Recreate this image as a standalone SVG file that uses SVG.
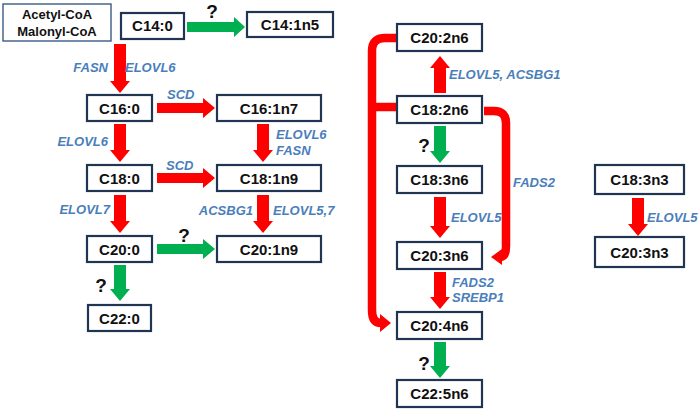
<svg xmlns="http://www.w3.org/2000/svg" width="700" height="412" viewBox="0 0 700 412">
<defs>
<style>
.box{fill:#fff;stroke:#1f3552;stroke-width:2.2}
.box0{fill:#fff;stroke:#3a5a85;stroke-width:1.4}
.t{font-family:"Liberation Sans",Arial,sans-serif;font-weight:bold;font-size:15px;fill:#111;text-anchor:middle}
.t0{font-family:"Liberation Sans",Arial,sans-serif;font-weight:bold;font-size:13px;fill:#111;text-anchor:middle}
.lb{font-family:"Liberation Sans",Arial,sans-serif;font-weight:bold;font-style:italic;font-size:13px;fill:#4a7ebb}
.q{font-family:"Liberation Sans",Arial,sans-serif;font-weight:bold;font-size:19px;fill:#111;text-anchor:middle}
.red{fill:#ff0000}
.grn{fill:#00b050}
.br{fill:none;stroke:#ff0000;stroke-width:8.5;stroke-linejoin:round}
</style>
</defs>
<rect width="700" height="412" fill="#fff"/>
<g id="connectors">
<!-- left column vertical arrows -->
<polygon class="red" points="114,44 126,44 126,81 130,81 120,93 110,81 114,81"/>
<polygon class="red" points="114,124 126,124 126,150 130,150 120,162 110,150 114,150"/>
<polygon class="red" points="114,195 126,195 126,221 130,221 120,233 110,221 114,221"/>
<polygon class="grn" points="114,265 126,265 126,289 130,289 120,301 110,289 114,289"/>
<!-- horizontal arrows -->
<polygon class="grn" points="187,22 234,22 234,17 245,27 234,37 234,32 187,32"/>
<polygon class="red" points="157,103 203,103 203,98 215,108 203,118 203,113 157,113"/>
<polygon class="red" points="157,173 203,173 203,168 215,178 203,188 203,183 157,183"/>
<polygon class="grn" points="157,244 203,244 203,239 215,249 203,259 203,254 157,254"/>
<!-- right column vertical arrows -->
<polygon class="red" points="257,124 269,124 269,150 273,150 263,162 253,150 257,150"/>
<polygon class="red" points="257,195 269,195 269,221 273,221 263,233 253,221 257,221"/>
<!-- n6 column -->
<polygon class="red" points="434,93 446,93 446,68 450,68 440,56 430,68 434,68"/>
<polygon class="grn" points="434,126 446,126 446,151 450,151 440,163 430,151 434,151"/>
<polygon class="red" points="434,197 446,197 446,226 450,226 440,238 430,226 434,226"/>
<polygon class="red" points="434,272 446,272 446,297 450,297 440,309 430,297 434,297"/>
<polygon class="grn" points="434,342 446,342 446,366 450,366 440,378 430,366 434,366"/>
<!-- n3 -->
<polygon class="red" points="632,198 644,198 644,224 648,224 638,236 628,224 632,224"/>
<!-- left bracket -->
<path class="br" d="M397,38 H385 Q372,38 372,51 V310 Q372,323 381,323"/>
<path class="br" d="M372,107 H397"/>
<polygon class="red" points="380,314 391,323 380,332"/>
<!-- right bracket -->
<path class="br" d="M484,111 H494 Q506,111 506,123 V246 Q506,257 500,257"/>
<polygon class="red" points="502,249 491,257 502,265"/>
</g>
<g id="n-acetyl"><rect class="box0" x="3" y="4" width="108" height="37"/><text class="t0" x="57" y="19">Acetyl-CoA</text><text class="t0" x="57" y="36">Malonyl-CoA</text></g>
<g id="n-c14-0"><rect class="box" x="121" y="13" width="63" height="26"/><text class="t" x="152.5" y="31">C14:0</text></g>
<g id="n-c14-1n5"><rect class="box" x="247" y="12" width="86" height="25"/><text class="t" x="290" y="30">C14:1n5</text></g>
<g id="n-c16-0"><rect class="box" x="87" y="95" width="65" height="26"/><text class="t" x="119.5" y="113.5">C16:0</text></g>
<g id="n-c18-0"><rect class="box" x="87" y="165" width="65" height="26"/><text class="t" x="119.5" y="183.5">C18:0</text></g>
<g id="n-c20-0"><rect class="box" x="87" y="236" width="65" height="26"/><text class="t" x="119.5" y="254.5">C20:0</text></g>
<g id="n-c22-0"><rect class="box" x="88" y="305" width="63" height="26"/><text class="t" x="119.5" y="323.5">C22:0</text></g>
<g id="n-c16-1n7"><rect class="box" x="217" y="95" width="104" height="26"/><text class="t" x="269" y="113.5">C16:1n7</text></g>
<g id="n-c18-1n9"><rect class="box" x="217" y="165" width="104" height="26"/><text class="t" x="269" y="183.5">C18:1n9</text></g>
<g id="n-c20-1n9"><rect class="box" x="217" y="236" width="104" height="26"/><text class="t" x="269" y="254.5">C20:1n9</text></g>
<g id="n-c20-2n6"><rect class="box" x="397" y="24" width="85" height="27"/><text class="t" x="439.5" y="43">C20:2n6</text></g>
<g id="n-c18-2n6"><rect class="box" x="397" y="96" width="85" height="27"/><text class="t" x="439.5" y="115">C18:2n6</text></g>
<g id="n-c18-3n6"><rect class="box" x="397" y="166" width="85" height="27"/><text class="t" x="439.5" y="185">C18:3n6</text></g>
<g id="n-c20-3n6"><rect class="box" x="397" y="242" width="85" height="27"/><text class="t" x="439.5" y="261">C20:3n6</text></g>
<g id="n-c20-4n6"><rect class="box" x="397" y="312" width="85" height="27"/><text class="t" x="439.5" y="331">C20:4n6</text></g>
<g id="n-c22-5n6"><rect class="box" x="397" y="380" width="85" height="27"/><text class="t" x="439.5" y="399">C22:5n6</text></g>
<g id="n-c18-3n3"><rect class="box" x="595" y="165" width="89" height="29"/><text class="t" x="639.5" y="185">C18:3n3</text></g>
<g id="n-c20-3n3"><rect class="box" x="595" y="237" width="89" height="30"/><text class="t" x="639.5" y="257.5">C20:3n3</text></g>
<g id="labels">
<text class="lb" x="108" y="72" text-anchor="end">FASN</text>
<text class="lb" x="125" y="72">ELOVL6</text>
<text class="lb" x="167" y="99">SCD</text>
<text class="lb" x="108" y="146" text-anchor="end">ELOVL6</text>
<text class="lb" x="276" y="139">ELOVL6</text>
<text class="lb" x="276" y="155">FASN</text>
<text class="lb" x="166" y="170">SCD</text>
<text class="lb" x="110" y="214" text-anchor="end">ELOVL7</text>
<text class="lb" x="253" y="215" text-anchor="end">ACSBG1</text>
<text class="lb" x="273" y="215">ELOVL5,7</text>
<text class="lb" x="449" y="79">ELOVL5, ACSBG1</text>
<text class="lb" x="513" y="187">FADS2</text>
<text class="lb" x="451" y="222">ELOVL5</text>
<text class="lb" x="452" y="287">FADS2</text>
<text class="lb" x="452" y="302">SREBP1</text>
<text class="lb" x="647" y="222">ELOVL5</text>
<text class="q" x="212" y="18">?</text>
<text class="q" x="184" y="242">?</text>
<text class="q" x="101" y="292">?</text>
<text class="q" x="424" y="152">?</text>
<text class="q" x="424" y="370">?</text>
</g>
</svg>
